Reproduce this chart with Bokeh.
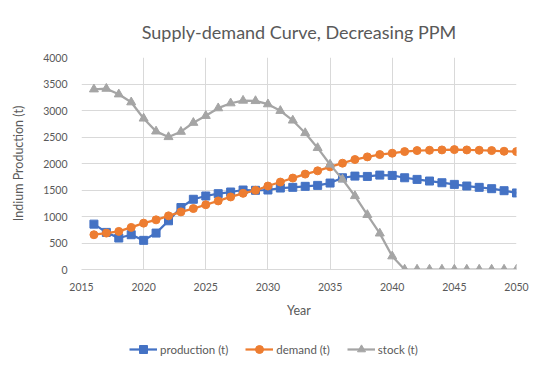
from bokeh.plotting import figure
from bokeh.layouts import column
from bokeh.models import Legend, LegendItem, Range1d, SingleIntervalTicker
from bokeh.embed import file_html
from bokeh.resources import INLINE

years = list(range(2016, 2051))
production = [856, 700, 594, 656, 550, 687, 919, 1169, 1325, 1387,
              1431, 1462, 1500, 1494, 1500, 1537, 1550, 1569, 1587, 1631,
              1731, 1762, 1756, 1781, 1775, 1731, 1700, 1669, 1637, 1606,
              1575, 1550, 1525, 1487, 1444]
demand = [656, 687, 719, 794, 875, 937, 1012, 1087, 1150, 1222,
          1294, 1369, 1437, 1494, 1575, 1650, 1725, 1800, 1862, 1937,
          2006, 2075, 2125, 2169, 2194, 2225, 2244, 2250, 2256, 2262,
          2256, 2250, 2244, 2231, 2225]
stock = [3400, 3412, 3306, 3156, 2850, 2606, 2500, 2600, 2769, 2900,
         3044, 3137, 3187, 3180, 3119, 2994, 2812, 2575, 2294, 1981,
         1700, 1387, 1031, 681, 250, 0, 0, 0, 0, 0,
         0, 0, 0, 0, 0]

TXT = "#595959"
FONT = "Lato"

p = figure(width=534, height=320, output_backend="svg", toolbar_location=None,
           x_range=Range1d(2015, 2050), y_range=Range1d(0, 4000),
           min_border_left=81, min_border_right=18, min_border_top=57,
           min_border_bottom=50)
p.outline_line_color = None
p.background_fill_color = "white"
p.border_fill_color = "white"

p.title.text = "Supply-demand Curve, Decreasing PPM"
p.title.align = "center"
p.title.text_font = FONT
p.title.text_font_size = "18px"
p.title.text_font_style = "normal"
p.title.text_color = TXT
p.title.standoff = 30

p.xaxis.ticker = SingleIntervalTicker(interval=5)
p.yaxis.ticker = SingleIntervalTicker(interval=500)
for ax in (p.xaxis[0], p.yaxis[0]):
    ax.major_tick_line_color = None
    ax.minor_tick_line_color = None
    ax.major_label_text_font = FONT
    ax.major_label_text_font_size = "10.5px"
    ax.major_label_text_color = TXT
    ax.axis_label_text_font = FONT
    ax.axis_label_text_font_size = "12.5px"
    ax.axis_label_text_font_style = "normal"
    ax.axis_label_text_color = TXT
p.xaxis.axis_line_color = "#d9d9d9"
p.yaxis.axis_line_color = None
p.xaxis.axis_label = "Year"
p.yaxis.axis_label = "Indium Production (t)"
p.xaxis.major_label_standoff = 7
p.yaxis.major_label_standoff = 8
p.xaxis.axis_label_standoff = 9
p.yaxis.axis_label_standoff = 14

p.xgrid.ticker = SingleIntervalTicker(interval=5)
p.ygrid.ticker = SingleIntervalTicker(interval=500)
p.grid.grid_line_color = "#d9d9d9"
p.grid.grid_line_width = 1

series = [("production (t)", production, "#4472C4", "square", 8),
          ("demand (t)", demand, "#ED7D31", "circle", 8),
          ("stock (t)", stock, "#A5A5A5", "triangle", 9)]

# legend lives in its own strip below the chart (its ranges keep the
# duplicate series out of view, only the legend entries show)
pl = figure(width=534, height=44, output_backend="svg", toolbar_location=None,
            x_range=Range1d(0, 1), y_range=Range1d(0, 1),
            min_border_left=81, min_border_right=18, min_border_top=0,
            min_border_bottom=0)
pl.axis.visible = False
pl.grid.visible = False
pl.outline_line_color = None
pl.border_fill_color = "white"
pl.background_fill_color = "white"

items = []
for name, vals, col, mk, sz in series:
    p.line(years, vals, line_color=col, line_width=2.25)
    p.scatter(years, vals, marker=mk, size=sz, fill_color=col, line_color=col)
    l = pl.line(years, vals, line_color=col, line_width=2.25)
    s = pl.scatter(years, vals, marker=mk, size=sz, fill_color=col, line_color=col)
    items.append(LegendItem(label=name, renderers=[l, s]))

legend = Legend(items=items, orientation="horizontal", location=(48, 5),
                padding=0, margin=0, spacing=17, glyph_width=28, glyph_height=20,
                label_standoff=3, border_line_alpha=0, background_fill_alpha=0,
                label_text_font=FONT, label_text_font_size="11.5px",
                label_text_color=TXT)
pl.add_layout(legend, "center")

layout = column(p, pl, spacing=0)
open("out.html", "w").write(file_html(layout, INLINE))
